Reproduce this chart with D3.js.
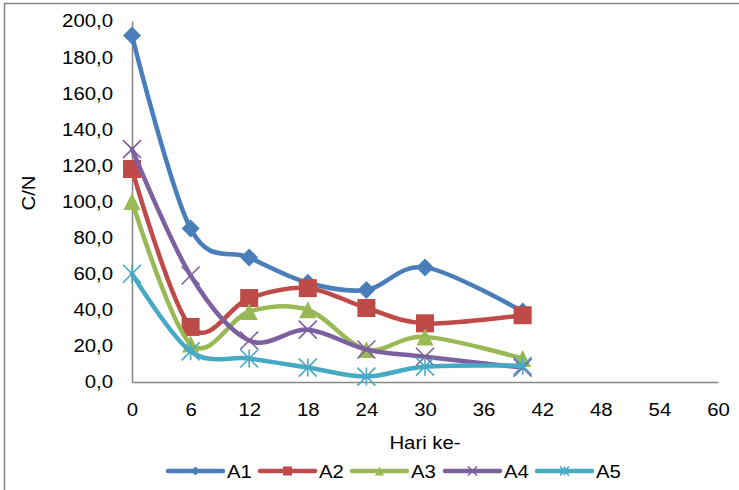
<!DOCTYPE html>
<html><head><meta charset="utf-8">
<script src="https://cdn.jsdelivr.net/npm/d3@7"></script>
<style>body{margin:0;background:#fff;}svg{display:block;font-family:"Liberation Sans",Arial,sans-serif;}</style>
</head><body><svg id="c" width="739" height="490"></svg>
<script>
const days = [0, 6, 12, 18, 24, 30, 40];
const seriesNames = ["A1", "A2", "A3", "A4", "A5"];
const A1 = [192, 85, 69, 55, 51, 63.5, 39];
const A2 = [118, 30.5, 46.5, 52, 41, 32.5, 37];
const A3 = [100, 21, 39, 40, 18, 25, 13];
const A4 = [129, 59, 23, 29, 18, 14, 8];
const A5 = [60, 17, 13, 8, 3, 8.5, 9];
const xTicks = [0, 6, 12, 18, 24, 30, 36, 42, 48, 54, 60];
const yTicks = [0, 20, 40, 60, 80, 100, 120, 140, 160, 180, 200];
const colors = ["#4A7EBB", "#BE4B48", "#98B954", "#7D60A0", "#46AAC5"];
const symbols = ["diamond", "square", "triangle", "x", "asterisk"];
const values = [A1, A2, A3, A4, A5];

const FS = 18.5, SX = 1.1;
const svg = d3.select("#c");
svg.append("rect").attr("x", 4.5).attr("y", 3.5).attr("width", 760).attr("height", 520)
  .attr("fill", "none").attr("stroke", "#868686").attr("stroke-width", 1.5);

const x = d3.scaleLinear().domain([0, 60]).range([132, 718]);
const y = d3.scaleLinear().domain([0, 200]).range([382, 21]);

// axes
const xa = svg.append("g").attr("transform", "translate(0,382)")
  .call(d3.axisBottom(x).tickValues(xTicks).tickSize(0).tickPadding(21).tickFormat(d3.format("d")));
const ya = svg.append("g").attr("transform", "translate(132,0)")
  .call(d3.axisLeft(y).tickValues(yTicks).tickSize(0).tickPadding(19 / SX).tickFormat(d => d.toFixed(1).replace(".", ",")));
[xa, ya].forEach(a => {
  a.attr("font-size", FS).attr("font-family", "Liberation Sans, Arial, sans-serif");
  a.select(".domain").attr("stroke", "#868686").attr("stroke-width", 1.5);
  a.selectAll("text").attr("fill", "#000").attr("transform", `scale(${SX},1)`);
});

svg.append("text").attr("transform", `translate(35,193) rotate(-90) scale(${SX},1)`).attr("text-anchor", "middle")
  .attr("font-size", FS).text("C/N");
svg.append("text").attr("transform", `translate(425,449) scale(${SX},1)`).attr("text-anchor", "middle")
  .attr("font-size", FS).text("Hari ke-");

function marker(g, type, color, s) {
  const h = s / 2;
  if (type === "diamond") {
    g.append("path").attr("d", `M0,${-h}L${h},0L0,${h}L${-h},0Z`).attr("fill", color);
  } else if (type === "square") {
    g.append("rect").attr("x", -h).attr("y", -h).attr("width", s).attr("height", s).attr("fill", color);
  } else if (type === "triangle") {
    g.append("path").attr("d", `M0,${-h}L${h},${h}L${-h},${h}Z`).attr("fill", color);
  } else if (type === "x") {
    g.append("path").attr("d", `M${-h},${-h}L${h},${h}M${h},${-h}L${-h},${h}`).attr("stroke", color).attr("stroke-width", 1.6);
  } else {
    g.append("path").attr("d", `M${-h},${-h}L${h},${h}M${h},${-h}L${-h},${h}M0,${-h}L0,${h}`).attr("stroke", color).attr("stroke-width", 1.6);
  }
}

const line = d3.line().x(d => x(d[0])).y(d => y(d[1])).curve(d3.curveCatmullRom.alpha(0));
const markerSize = [18, 18, 17, 18, 18];

values.forEach((vals, i) => {
  const pts = days.map((d, j) => [d, vals[j]]);
  svg.append("path").datum(pts).attr("d", line).attr("fill", "none")
    .attr("stroke", colors[i]).attr("stroke-width", 4.5).attr("stroke-linejoin", "round").attr("stroke-linecap", "round");
  pts.forEach(p => {
    const g = svg.append("g").attr("transform", `translate(${x(p[0])},${y(p[1])})`);
    marker(g, symbols[i], colors[i], markerSize[i]);
  });
});

// legend
const legX = [168, 260, 352, 445, 537];
seriesNames.forEach((n, i) => {
  const g = svg.append("g").attr("transform", `translate(${legX[i]},471)`);
  g.append("line").attr("x1", 0).attr("x2", 55).attr("y1", 0).attr("y2", 0)
    .attr("stroke", colors[i]).attr("stroke-width", 4.5).attr("stroke-linecap", "round");
  const m = g.append("g").attr("transform", "translate(27.5,0)");
  marker(m, symbols[i], colors[i], 9);
  g.append("text").attr("transform", `translate(59,7) scale(${SX},1)`).attr("font-size", FS).text(n);
});
</script></body></html>
